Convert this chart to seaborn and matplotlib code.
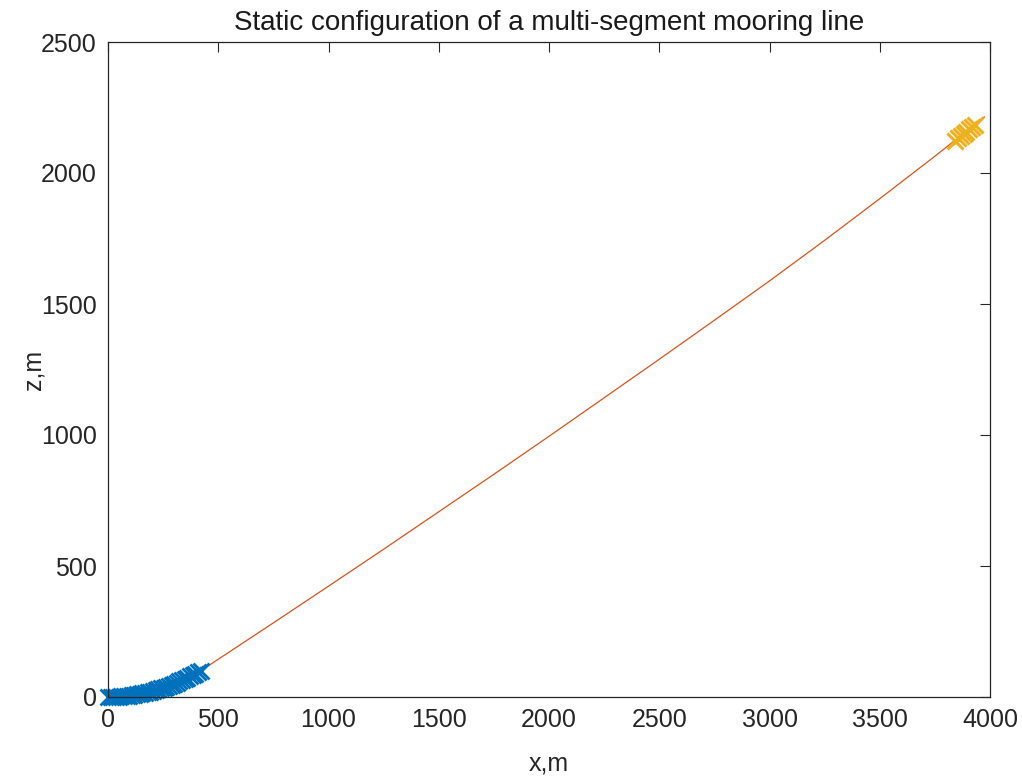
import matplotlib
matplotlib.use("Agg")
import matplotlib.pyplot as plt
import seaborn as sns
import pandas as pd

# Segment 1 (chain near seabed), blue x markers
seg1_x = [0, 12, 24, 36, 48, 60, 72, 84, 96, 108, 120, 132, 144, 156, 168, 180,
          192, 204, 216, 228, 240, 252, 264, 276, 288, 300, 312, 324, 336, 348,
          360, 372, 384, 396, 408, 420]
seg1_z = [0, 0.1, 0.3, 0.7, 1.3, 2.0, 2.9, 4.0, 5.2, 6.6, 8.2, 9.9, 11.8, 13.8,
          16.0, 18.4, 20.9, 23.6, 26.4, 29.5, 32.7, 36.0, 39.5, 43.2, 47.0, 51.0,
          55.2, 59.5, 64.0, 68.7, 73.5, 78.4, 83.6, 88.9, 94.4, 100]

# Segment 2 (long line), orange
seg2_x = [420, 500, 750, 1000, 1250, 1500, 1750, 2000, 2250, 2500, 2750, 3000,
          3250, 3500, 3750, 3975]
seg2_z = [100, 144, 283, 423, 564, 707, 850, 995, 1142, 1289, 1438, 1588,
          1743, 1902, 2064, 2214]

# Segment 3 (top), yellow x markers
seg3_x = [3841, 3854, 3867, 3880, 3893, 3906, 3919, 3932]
seg3_z = [2124, 2133, 2141, 2150, 2158, 2167, 2176, 2185]

x_ticks = [0, 500, 1000, 1500, 2000, 2500, 3000, 3500, 4000]
y_ticks = [0, 500, 1000, 1500, 2000, 2500]

sns.set_style("white")
plt.rcParams['font.family'] = ['Liberation Sans', 'DejaVu Sans']

fig = plt.figure(figsize=(10.22, 7.78), dpi=100)
ax = fig.add_axes([108 / 1022, 1 - 697 / 778, 882 / 1022, 655 / 778])

blue = "#0072BD"
orange = "#D95319"
yellow = "#EDB120"

df2 = pd.DataFrame({"x": seg2_x, "z": seg2_z})
sns.lineplot(data=df2, x="x", y="z", sort=False, color=orange, linewidth=0.9, ax=ax)

df1 = pd.DataFrame({"x": seg1_x, "z": seg1_z})
sns.lineplot(data=df1, x="x", y="z", sort=False, color=blue, linewidth=1.0,
             marker="x", markersize=11, markeredgewidth=2.0,
             markeredgecolor=blue, clip_on=False, ax=ax)

df3 = pd.DataFrame({"x": seg3_x, "z": seg3_z})
sns.lineplot(data=df3, x="x", y="z", sort=False, color=yellow, linewidth=1.0,
             marker="x", markersize=12, markeredgewidth=2.2,
             markeredgecolor=yellow, clip_on=False, ax=ax)

ax.set_xlim(0, 4000)
ax.set_ylim(0, 2500)
ax.set_xticks(x_ticks)
ax.set_yticks(y_ticks)
ax.set_xticklabels([str(v) for v in x_ticks])
ax.set_yticklabels([str(v) for v in y_ticks])

tc = "#262626"
ax.tick_params(direction="in", length=7, width=0.8, colors=tc, labelsize=18,
               top=True, right=True, labelcolor=tc)
ax.tick_params(axis="x", pad=8)
ax.tick_params(axis="y", pad=8)
for s in ax.spines.values():
    s.set_visible(True)
    s.set_color(tc)
    s.set_linewidth(0.9)

ax.set_xlabel("x,m", fontsize=18, color=tc, labelpad=14)
ax.set_ylabel("z,m", fontsize=18, color=tc, labelpad=-3)
ax.set_title("Static configuration of a multi-segment mooring line",
             fontsize=20, color="#1a1a1a", pad=9)
ax.grid(False)

fig.savefig("out.png", dpi=100)
